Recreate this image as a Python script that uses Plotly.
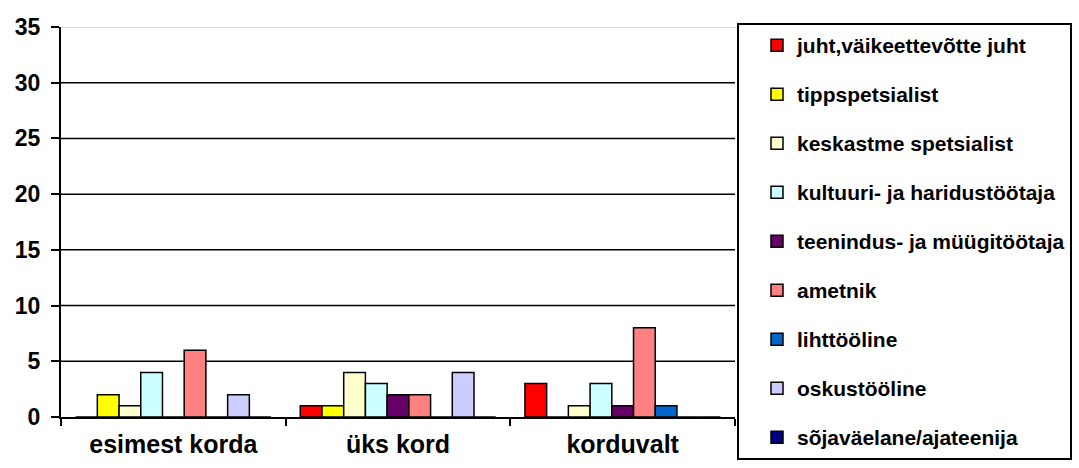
import plotly.graph_objects as go

categories = ["esimest korda", "üks kord", "korduvalt"]

series_names = [
    "juht,väikeettevõtte juht",
    "tippspetsialist",
    "keskastme spetsialist",
    "kultuuri- ja haridustöötaja",
    "teenindus- ja müügitöötaja",
    "ametnik",
    "lihttööline",
    "oskustööline",
    "sõjaväelane/ajateenija",
]

series_colors = [
    "#FF0000", "#FFFF00", "#FFFFCC", "#CCFFFF", "#660066",
    "#FF8080", "#0066CC", "#CCCCFF", "#000080",
]

# values per series, in category order
juht = [0, 1, 3]
tippspetsialist = [2, 1, 0]
keskastme = [1, 4, 1]
kultuuri = [4, 3, 3]
teenindus = [0, 2, 1]
ametnik = [6, 2, 8]
lihttooline = [0, 0, 1]
oskustooline = [2, 4, 0]
sojavaelane = [0, 0, 0]

series_values = [juht, tippspetsialist, keskastme, kultuuri, teenindus,
                 ametnik, lihttooline, oskustooline, sojavaelane]

y_ticks = [0, 5, 10, 15, 20, 25, 30, 35]

FONT = "Liberation Sans, Arial, sans-serif"

fig = go.Figure()
for i, (name, color, vals) in enumerate(zip(series_names, series_colors, series_values)):
    fig.add_trace(go.Bar(
        x=categories, y=vals, name=name,
        marker=dict(color=color, line=dict(color="black", width=1.5)),
        legendgroup=f"g{i}",
    ))

# horizontal grid lines (top one is faint)
for v in y_ticks[1:]:
    fig.add_shape(
        type="line", xref="paper", yref="y", x0=0, x1=1, y0=v, y1=v,
        line=dict(color="#D0D0D0" if v == y_ticks[-1] else "black", width=1.5),
        layer="below",
    )

fig.update_layout(
    width=1079, height=468,
    margin=dict(l=61, r=344, t=27, b=51, autoexpand=False),
    paper_bgcolor="white", plot_bgcolor="white",
    barmode="group", bargap=0.13, bargroupgap=0,
    font=dict(family=FONT, color="black"),
    showlegend=True,
    legend=dict(
        xref="container", yref="container",
        x=737 / 1079, xanchor="left", y=1 - 23 / 468, yanchor="top",
        bordercolor="black", borderwidth=2, bgcolor="white",
        font=dict(family=FONT, size=21, color="black", weight="bold"),
        tracegroupgap=18.7, traceorder="grouped",
        entrywidth=274, indentation=18,
        maxheight=468,
        itemclick=False,
    ),
    xaxis=dict(
        showline=True, linecolor="black", linewidth=2,
        ticks="outside", tickson="boundaries", ticklen=7, tickwidth=2, tickcolor="black",
        ticklabelstandoff=4,
        tickfont=dict(family=FONT, size=25, color="black", weight="bold"),
        showgrid=False,
    ),
    yaxis=dict(
        range=[0, 35], tickvals=y_ticks,
        showline=True, linecolor="black", linewidth=2,
        ticks="outside", ticklen=8, tickwidth=2, tickcolor="black",
        ticklabelstandoff=6,
        tickfont=dict(family=FONT, size=23, color="black", weight="bold"),
        showgrid=False, zeroline=False,
    ),
)

fig.write_html("out.html")
